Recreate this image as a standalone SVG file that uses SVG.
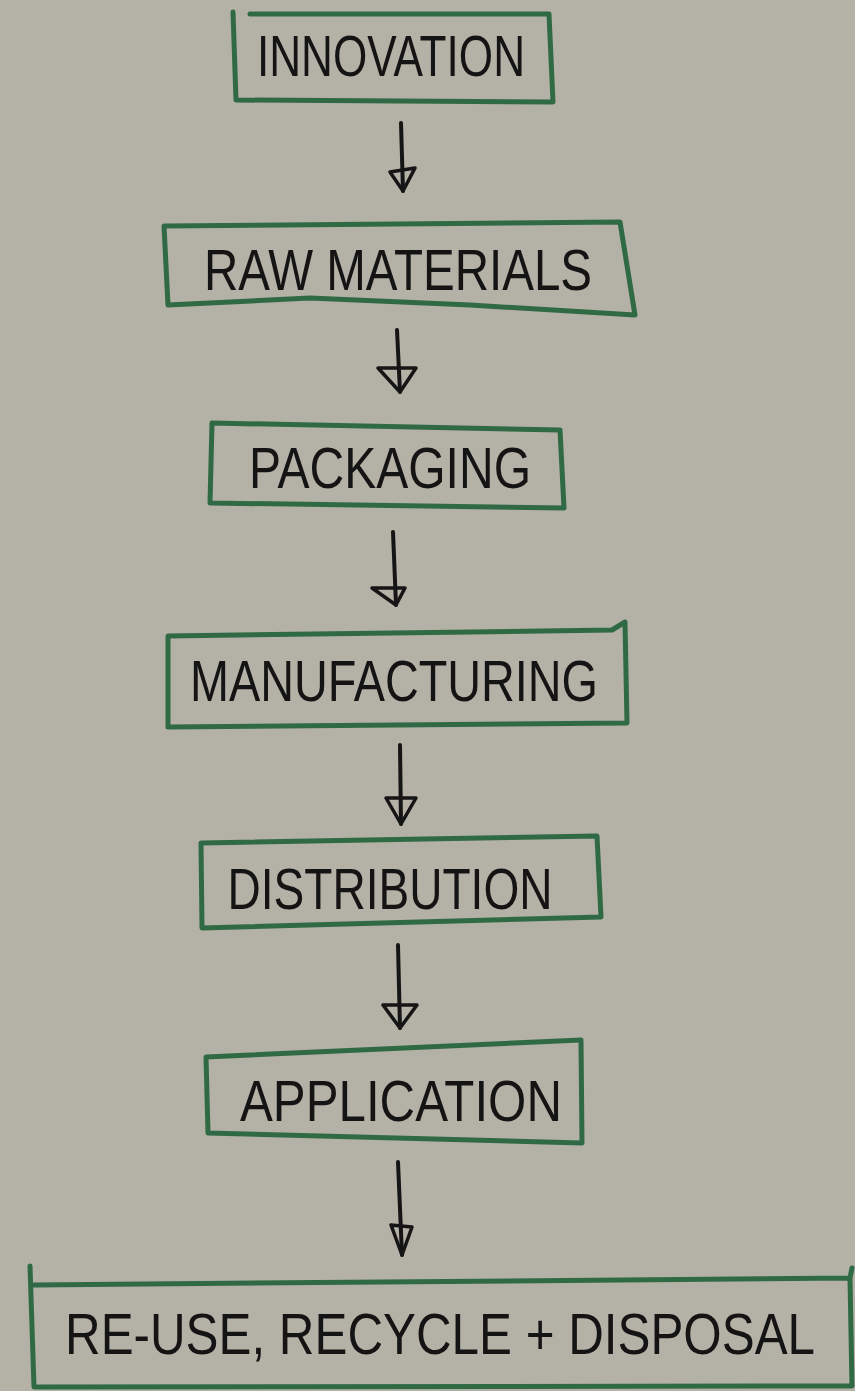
<svg xmlns="http://www.w3.org/2000/svg" width="855" height="1391" viewBox="0 0 855 1391">
<style>
.box{fill:none;stroke:#2f6a45;stroke-width:5;stroke-linejoin:round;stroke-linecap:round}
.lbl{font-family:"Liberation Sans","DejaVu Sans",sans-serif;font-size:58px;fill:#141414;text-anchor:middle;font-weight:normal}
.conn{fill:none;stroke:#151515;stroke-width:4;stroke-linecap:round}
.head{fill:none;stroke:#151515;stroke-width:3.5;stroke-linejoin:round}
</style>
<rect width="855" height="1391" fill="#b4b1a7"/>
<g id="connectors">
<g id="c1"><line class="conn" x1="401" y1="123" x2="403" y2="191"/><path class="head" d="M390,172 L415,168 L403,191 Z"/></g>
<g id="c2"><line class="conn" x1="397" y1="330" x2="400" y2="392"/><path class="head" d="M378,368 L416,368 L400,392 Z"/></g>
<g id="c3"><line class="conn" x1="393" y1="532" x2="396" y2="605"/><path class="head" d="M372,588 L405,588 L396,605 Z"/></g>
<g id="c4"><line class="conn" x1="400" y1="745" x2="401" y2="824"/><path class="head" d="M386,798 L416,798 L401,824 Z"/></g>
<g id="c5"><line class="conn" x1="398" y1="945" x2="400" y2="1028"/><path class="head" d="M383,1005 L417,1005 L400,1028 Z"/></g>
<g id="c6"><line class="conn" x1="398" y1="1162" x2="402" y2="1255"/><path class="head" d="M391,1225 L412,1227 L402,1255 Z"/></g>
</g>
<g id="n1"><path class="box" d="M233,12 L236,100 L553,102 L549,14 L250,14"/><text class="lbl" x="391" y="76" textLength="268" lengthAdjust="spacingAndGlyphs">INNOVATION</text></g>
<g id="n2"><path class="box" d="M164,226 L168,305 L310,298 L470,305 L635,315 L620,222 L164,226 Z"/><text class="lbl" x="398" y="290" textLength="388" lengthAdjust="spacingAndGlyphs">RAW MATERIALS</text></g>
<g id="n3"><path class="box" d="M212,423 L210,503 L564,508 L560,430 L212,423 Z"/><text class="lbl" x="390" y="488" textLength="282" lengthAdjust="spacingAndGlyphs">PACKAGING</text></g>
<g id="n4"><path class="box" d="M168,636 L168,727 L627,723 L625,622 L612,630 L168,636 Z"/><text class="lbl" x="394" y="701" textLength="408" lengthAdjust="spacingAndGlyphs">MANUFACTURING</text></g>
<g id="n5"><path class="box" d="M201,843 L202,928 L601,917 L597,836 L201,843 Z"/><text class="lbl" x="390" y="909" textLength="325" lengthAdjust="spacingAndGlyphs">DISTRIBUTION</text></g>
<g id="n6"><path class="box" d="M206,1057 L208,1133 L582,1143 L581,1040 L206,1057 Z"/><text class="lbl" x="401" y="1121" textLength="322" lengthAdjust="spacingAndGlyphs">APPLICATION</text></g>
<g id="n7"><path class="box" d="M30,1266 L34,1387 L852,1386 L850,1278 L34,1285 M850,1278 L852,1268"/><text class="lbl" x="440" y="1354" font-size="60" textLength="750" lengthAdjust="spacingAndGlyphs">RE-USE, RECYCLE + DISPOSAL</text></g>
</svg>
